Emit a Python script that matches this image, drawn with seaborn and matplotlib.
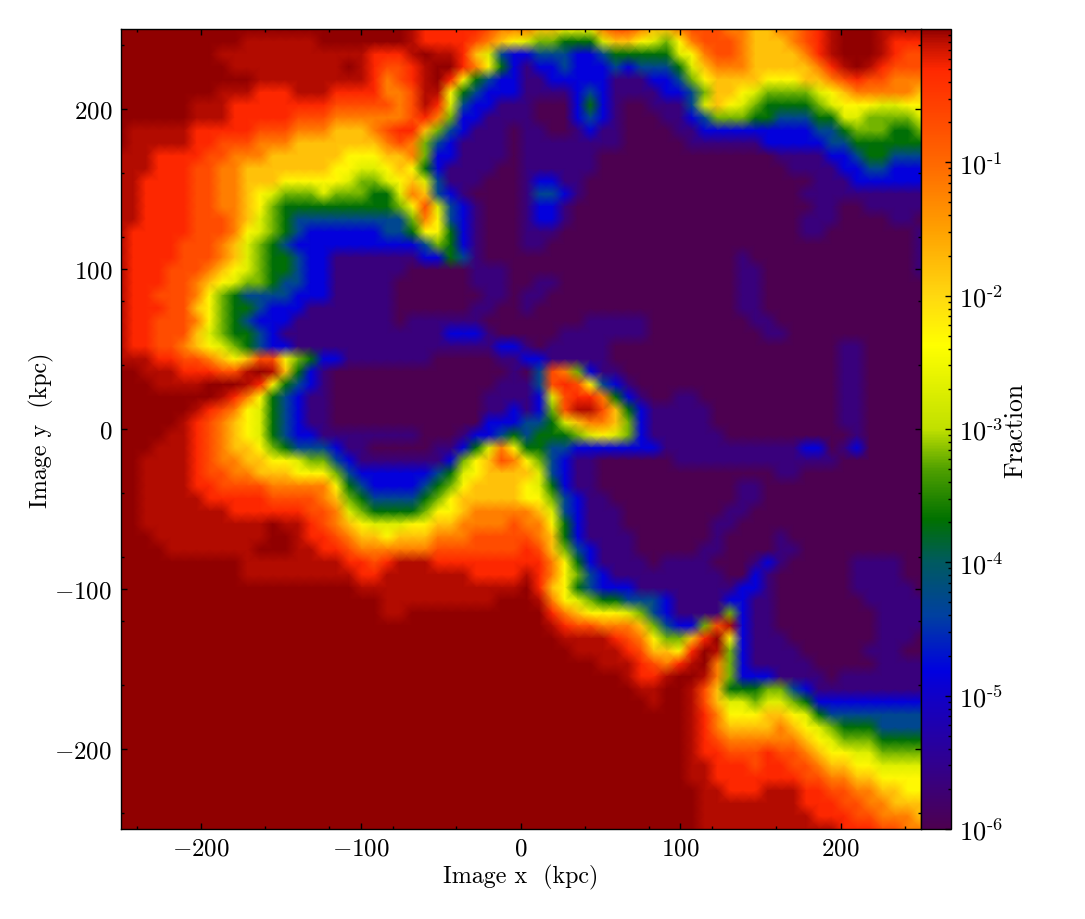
import numpy as np
import pandas as pd
import matplotlib
matplotlib.use('Agg')
import matplotlib.pyplot as plt
from matplotlib.colors import LinearSegmentedColormap, LogNorm
from matplotlib.ticker import FixedLocator, LogLocator, NullFormatter
import seaborn as sns

# map, one text row per 7.8 kpc, top of the image first
rows = [
"dddddddd dddddddd dddddddc bbbbba99 9887779a a9889aaa 998899ab cdddcccc",
"dddddddd ddcccccc dddddddc bbbba987 65544468 876579aa a98889ab cdddcbbb",
"dddddddd cccccccc ccccbbbc dccb8632 23332234 4444679a a988889b cdddcbaa",
"dddddddd dccccccc ccdcbaab cddb9742 12232223 23334689 99888889 bcdcbaaa",
"dddddddd dddccccc ccccb9ab cdb74322 11222221 11223578 88877788 9abaa999",
"dddddddd cccbbbcc cbbbb99a cc743222 11112321 11122358 87655556 78999998",
"ddddddcc cbbbbbbb baaaaa9a cb632211 10002421 00111368 76544445 67776677",
"ddddddcc cbbbbbaa a999999a b9522111 10002321 00011235 55443334 46655556",
"dcccccbb bbbaaa99 98889abb 85321110 11001211 00001122 22222223 34555445",
"dcccccbb aaa99988 888889a9 53211110 11111111 00000111 11122222 33444444",
"cccbbbba a9998888 88777889 52211110 11111100 00000000 00001111 22344333",
"cccbbbaa 99888888 87766787 42111100 11111100 00000000 00000111 12233222",
"ccbbbbaa 99888777 77655678 63111000 12211000 00000000 00000001 11222222",
"ccbbbbaa 99876555 65554469 83210000 13321000 00000000 00000011 11111111",
"ccbbbbaa 99875444 44444457 a6321000 12210000 00000000 00000001 10011111",
"ccbbbbaa a9865433 33333335 97321000 12210000 00000000 00000011 10000110",
"cbbbbbaa a9765432 22222334 77421000 11100000 00000000 00000011 00000001",
"cbbbbaaa 98654322 22222222 35421000 11000000 00000000 00000000 00000001",
"cbbbbaaa 98654432 21111111 22431000 00000000 00000000 01000000 00000001",
"cbbbaaa9 87654432 21111110 00001110 00000000 00000000 01100000 00000001",
"cbbbaa98 76554332 21111100 00001110 01100000 00000000 01100000 00000000",
"cbbaaa97 54333322 21111100 00000110 11000000 00000000 01100000 00000000",
"cbbbaa87 54432221 11111100 00001100 10000000 00000000 01100000 00000000",
"cbbaaa97 54322211 11111101 11111000 00000111 11000000 00110000 00000000",
"cbbaaa86 54432111 11111111 11222100 00011111 11000000 00011000 00000000",
"cbbaa987 65432211 11111111 11111122 10111110 00000000 00000000 01100000",
"cccbbaa9 878aa754 22111111 10000011 22111110 00000000 00000000 01100000",
"ddcccbbb aacdc842 10000000 00000001 03a95211 00000000 00000000 01100000",
"dddccccd ddcb7432 10000000 00000011 13aba732 10000000 00000000 01100000",
"dddddddd cb974321 10000000 00000111 126abb94 21001100 00000000 01100000",
"ddddddcb a9764321 10000000 00000112 125acca8 42111110 00000000 01100000",
"dddddcba 98764321 10000000 00000222 33468998 52111110 00000000 01100000",
"ddddccba 98764322 11111111 00012234 34445676 52111111 00000000 00100000",
"dddcccba 98875433 32110000 01124697 44332222 22211111 11111122 01200000",
"ddccccba 99887765 53211111 112578a9 75321100 00001111 11111111 10000000",
"ddccccba a9988877 75322222 23467888 86321100 00000000 00001100 00000000",
"ddccccbb aaaa9999 97432222 34578888 76421100 00000000 01100000 00000000",
"ddcccccb bbbbaaaa 98543333 45788888 77532110 00000000 01100000 00000000",
"ddcccccc cbbbbbba a9654444 57789999 98632111 00000000 11000000 00000000",
"ddcccccc ccccdccb a9876667 7889999a 99742111 00000001 10000000 00000000",
"dddccccc ccccddcb ba988788 8999aaaa a9842111 10000001 00001000 00000000",
"ddddcccc cccdddcc bba99999 9aaaaaaa ba853211 10000011 00001100 00000000",
"dddddddd ddcccccc ccbbabcc cbbbbbbb bb974211 11011110 00121000 00111100",
"dddddddd ddcccccc cccbbccc ccccbbbb cb975321 11111111 00210000 00111100",
"dddddddd dddddddd dddccccc cccccccc db874322 21111111 12210000 00111110",
"dddddddd dddddddd dddddccc ccccccdd dc976544 33321111 22110000 00011111",
"dddddddd dddddddd dddddccd dddddddd ddb98777 65321111 52110000 00001111",
"dddddddd dddddddd dddddddd dddddddd ddcbaa99 9853225a c2110000 00001111",
"dddddddd dddddddd dddddddd dddddddd dddccccb a97558bd 72111000 00001110",
"dddddddd dddddddd dddddddd dddddddd ddddcccc ba887bdc 52111100 00011100",
"dddddddd dddddddd dddddddd dddddddd ddddddcc cba9bcd9 52111110 00001111",
"dddddddd dddddddd dddddddd dddddddd dddddddd cbbcddc9 52221111 01111111",
"dddddddd dddddddd dddddddd dddddddd dddddddd dccddca8 44455321 11111111",
"dddddddd dddddddd dddddddd dddddddd dddddddd ddcddca8 66566542 22222222",
"dddddddd dddddddd dddddddd dddddddd dddddddd dddddcb9 77788764 33333333",
"dddddddd dddddddd dddddddd dddddddd dddddddd dddddcb9 88889876 54443333",
"dddddddd dddddddd dddddddd dddddddd dddddddd dddddcba 99999987 65554444",
"dddddddd dddddddd dddddddd dddddddd dddddddd dddddcbb aaabaa98 77665555",
"dddddddd dddddddd dddddddd dddddddd dddddddd dddddccb bbabbaa9 88776666",
"dddddddd dddddddd dddddddd dddddddd dddddddd dddddccb bbbbbbaa 99887777",
"dddddddd dddddddd dddddddd dddddddd dddddddd ddddddcc bbbcccbb aa998877",
"dddddddd dddddddd dddddddd dddddddd dddddddd ddddddcc ccccccbb baa99888",
"dddddddd dddddddd dddddddd dddddddd dddddddd ddddddcc cccccccb bbaa9998",
"dddddddd dddddddd dddddddd dddddddd dddddddd ddddddcc cccccccc cbbbaa99",
]

# what each letter in rows stands for, log10 of the fraction
level_keys = list("0123456789abcd")
level_logs = [-6.0, -5.65, -4.85, -4.3, -3.7, -3.2, -2.7, -2.3, -1.8, -1.2, -0.7, -0.3, -0.08, 0.0]

cmap_logs = [-6.0, -5.5, -5.0, -4.82, -4.4, -4.0, -3.68, -3.3, -3.0, -2.37, -2.0, -1.5, -1.0, -0.3, -0.1, 0.0]
cmap_colors = ['#4d0050', '#300090', '#1000c8', '#0000e0', '#0040a0', '#005a60', '#007000', '#50a000',
               '#c0e000', '#ffff00', '#ffd810', '#ffa000', '#ff6800', '#ff2800', '#c01000', '#900000']

major_kpc = [-200, -100, 0, 100, 200]
major_labels = [r'$-200$', r'$-100$', r'$0$', r'$100$', r'$200$']
minor_kpc = [-240, -160, -120, -80, -40, 40, 80, 120, 160, 240]
cbar_ticks = [1e-6, 1e-5, 1e-4, 1e-3, 1e-2, 1e-1]
cbar_labels = [r'$10^{\text{-6}}$', r'$10^{\text{-5}}$', r'$10^{\text{-4}}$',
               r'$10^{\text{-3}}$', r'$10^{\text{-2}}$', r'$10^{\text{-1}}$']

plt.rcParams['font.family'] = 'cmr10'
plt.rcParams['mathtext.fontset'] = 'cm'
plt.rcParams['axes.formatter.use_mathtext'] = True
plt.rcParams['axes.linewidth'] = 1.0

lookup = dict(zip(level_keys, level_logs))
grid = [[10 ** lookup[ch] for ch in row.replace(' ', '')] for row in rows]
df = pd.DataFrame(grid)
n = df.shape[0] - 1

pos = [(v - cmap_logs[0]) / (cmap_logs[-1] - cmap_logs[0]) for v in cmap_logs]
cmap = LinearSegmentedColormap.from_list('fraction', list(zip(pos, cmap_colors)), N=512)

fig = plt.figure(figsize=(10.85, 9.2), dpi=100)
ax = fig.add_axes([120.5 / 1085, 90 / 920, 800 / 1085, 800 / 920])
cax = fig.add_axes([920.5 / 1085, 90 / 920, 30 / 1085, 800 / 920])

sns.heatmap(df, ax=ax, cbar_ax=cax, cmap=cmap, norm=LogNorm(vmin=1e-6, vmax=1),
            xticklabels=False, yticklabels=False, shading='gouraud',
            cbar_kws={'ticks': cbar_ticks})
ax.set_xlim(0, n)
ax.set_ylim(n, 0)


def to_x(kpc):
    return [(k + 250) / 500 * n for k in kpc]


def to_y(kpc):
    return [(250 - k) / 500 * n for k in kpc]


ax.set_xticks(to_x(major_kpc))
ax.set_xticklabels(major_labels, rotation=0)
ax.set_xticks(to_x(minor_kpc), minor=True)
ax.set_yticks(to_y(major_kpc))
ax.set_yticklabels(major_labels, rotation=0)
ax.set_yticks(to_y(minor_kpc), minor=True)
ax.tick_params(which='both', direction='in', top=True, right=True, labelsize=18, width=1.0, pad=6)
ax.tick_params(which='major', length=4)
ax.tick_params(which='minor', length=2.2)
for s in ax.spines.values():
    s.set_visible(True)
    s.set_linewidth(1.0)
ax.set_xlabel('Image x  (kpc)', fontsize=17.3, labelpad=3.5)
ax.set_ylabel('Image y  (kpc)', fontsize=17.3, labelpad=0)

cb = ax.collections[0].colorbar
cb.outline.set_linewidth(1.0)
cb.outline.set_edgecolor('black')
cax.yaxis.set_major_locator(FixedLocator(cbar_ticks))
cax.set_yticklabels(cbar_labels)
cax.yaxis.set_minor_locator(LogLocator(base=10, subs=range(2, 10), numticks=20))
cax.yaxis.set_minor_formatter(NullFormatter())
cax.tick_params(which='both', direction='in', labelsize=19, width=1.0, pad=6)
cax.tick_params(which='major', length=4)
cax.tick_params(which='minor', length=2.2)
cax.set_ylabel('Fraction', fontsize=18.5, labelpad=0)

fig.savefig('out.png', dpi=100)
